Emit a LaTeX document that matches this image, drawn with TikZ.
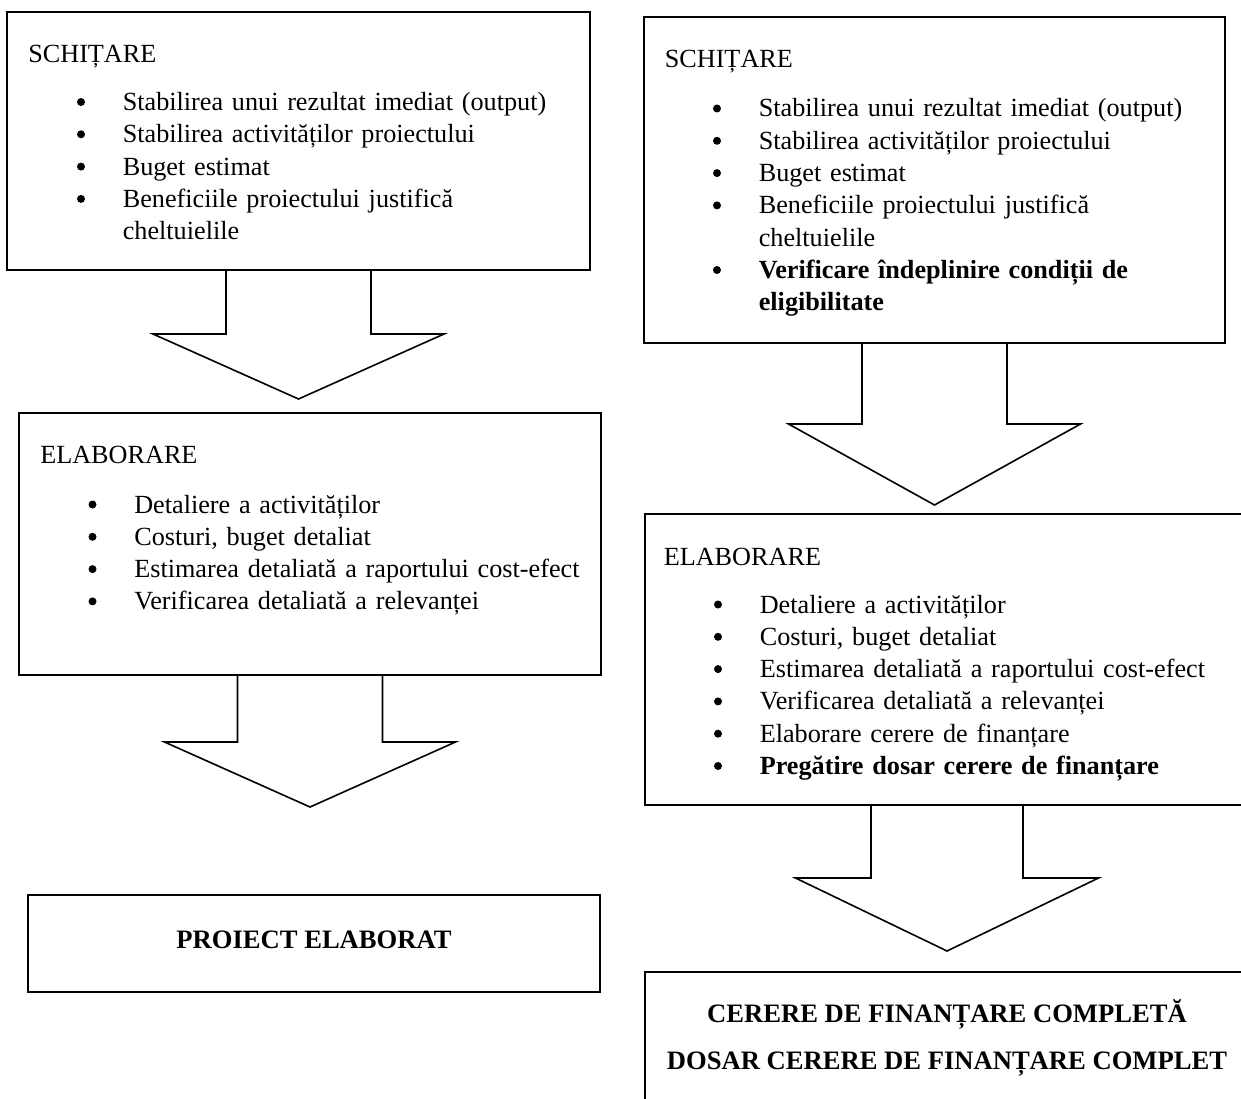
\documentclass[tikz,border=0pt]{standalone}
\usepackage{fontspec}
\setmainfont{Liberation Serif}
\usetikzlibrary{calc}

% round bullets drawn 41pt left of a list, on the lines numbered in #2 (from 0)
\newcommand\bullets[2]{%
  \foreach \k in {#2}
    \fill ($(#1.base west)+(-41,{-8.5+\k*32.3})$) circle[radius=4pt];}

% block arrow hanging under a box: #1 box, #2 shaft length, #3 head length,
% #4 half shaft width, #5 half head width
\newcommand\blockarrow[5]{%
  \draw[blockline] ($(#1.south)+(-#4,0)$) -- ($(#1.south)+(-#4,#2)$)
    -- ($(#1.south)+(-#5,#2)$) -- ($(#1.south)+(0,#2+#3)$)
    -- ($(#1.south)+(#5,#2)$) -- ($(#1.south)+(#4,#2)$)
    -- ($(#1.south)+(#4,0)$);}

\begin{document}
\begin{tikzpicture}[x=1pt,y=-1pt,line width=1.6pt,
  font=\fontsize{26.2}{32.3}\selectfont,
  panel/.style={draw,inner sep=0pt,outer sep=0pt,anchor=north west},
  heading/.style={anchor=base west,inner sep=0pt},
  items/.style={anchor=base west,inner sep=0pt,text width=540pt,align=left},
  result/.style={anchor=base,inner sep=0pt,font=\fontsize{26.6}{32.3}\selectfont\bfseries},
  blockline/.style={draw,line width=1.6pt}]

\path[use as bounding box] (0,0) rectangle (1241,1099);
\clip (0,0) rectangle (1241,1099);

% ---------------- left column ----------------
\node[panel,minimum width=583pt,minimum height=258pt] (b1) at (7,12) {};
\node[heading] (b1h) at ($(b1.north west)+(20.5,50.5)$) {SCHIȚARE};
\node[items] (b1l) at ($(b1.north west)+(115,98.5)$) {%
  Stabilirea unui rezultat imediat (output)\\
  Stabilirea activităților proiectului\\
  Buget estimat\\
  Beneficiile proiectului justifică\\
  cheltuielile};
\bullets{b1l}{0,1,2,3}

\node[panel,minimum width=582pt,minimum height=262pt] (b2) at (19,413) {};
\node[heading] (b2h) at ($(b2.north west)+(20.5,50.5)$) {ELABORARE};
\node[items] (b2l) at ($(b2.north west)+(114.5,100)$) {%
  Detaliere a activităților\\
  Costuri, buget detaliat\\
  Estimarea detaliată a raportului cost-efect\\
  Verificarea detaliată a relevanței};
\bullets{b2l}{0,1,2,3}

\node[panel,minimum width=572pt,minimum height=97pt] (b3) at (28,895) {};
\node[result] (b3t) at ($(b3.center)+(0,4.5)$) {PROIECT ELABORAT};

\blockarrow{b1}{64}{65}{72.5}{145.5}
\blockarrow{b2}{67}{65}{72.5}{145.5}

% ---------------- right column ----------------
\node[panel,minimum width=581pt,minimum height=326pt] (r1) at (644,17) {};
\node[heading] (r1h) at ($(r1.north west)+(20,51)$) {SCHIȚARE};
\node[items] (r1l) at ($(r1.north west)+(114,100)$) {%
  Stabilirea unui rezultat imediat (output)\\
  Stabilirea activităților proiectului\\
  Buget estimat\\
  Beneficiile proiectului justifică\\
  cheltuielile\\
  \textbf{Verificare îndeplinire condiții de}\\
  \textbf{eligibilitate}};
\bullets{r1l}{0,1,2,3,5}

\node[panel,minimum width=604pt,minimum height=291pt] (r2) at (645,514) {};
\node[heading] (r2h) at ($(r2.north west)+(18,51)$) {ELABORARE};
\node[items] (r2l) at ($(r2.north west)+(114,99)$) {%
  Detaliere a activităților\\
  Costuri, buget detaliat\\
  Estimarea detaliată a raportului cost-efect\\
  Verificarea detaliată a relevanței\\
  Elaborare cerere de finanțare\\
  \textbf{Pregătire dosar cerere de finanțare}};
\bullets{r2l}{0,1,2,3,4,5}

\node[panel,minimum width=604pt,minimum height=160pt] (r3) at (645,972) {};
\node[result] (r3a) at ($(r3.north)+(0,50)$) {CERERE DE FINANȚARE COMPLETĂ};
\node[result] (r3b) at ($(r3.north)+(0,97)$) {DOSAR CERERE DE FINANȚARE COMPLET};

\blockarrow{r1}{81}{81}{72.5}{146}
\blockarrow{r2}{73}{73}{76}{151.5}

\end{tikzpicture}
\end{document}
